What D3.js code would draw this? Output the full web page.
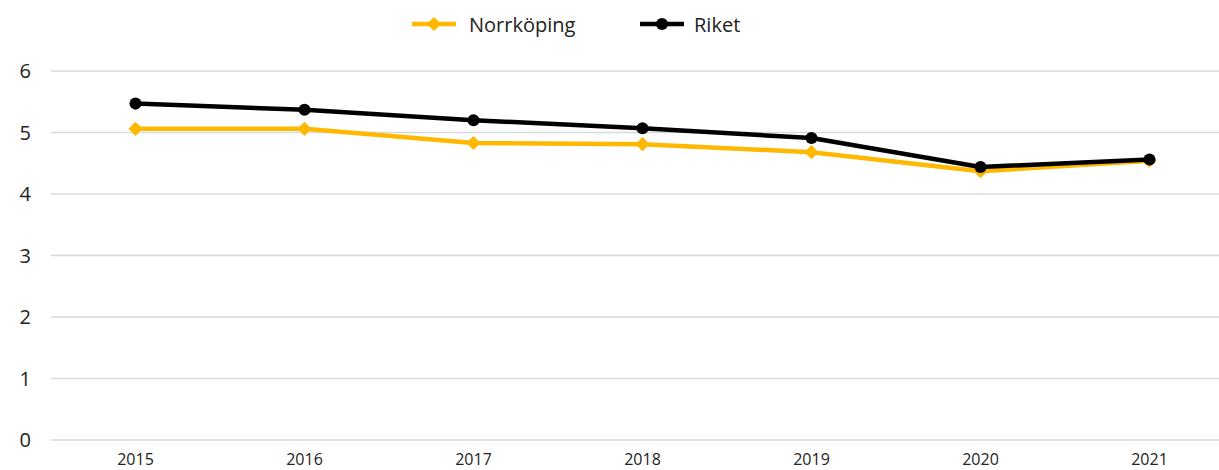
<!DOCTYPE html>
<html>
<head>
<meta charset="utf-8">
<script src="https://cdn.jsdelivr.net/npm/d3@7"></script>
<style>
  body { margin: 0; background: #fff; }
  text { font-family: "Open Sans", sans-serif; fill: #222; }
</style>
</head>
<body>
<script>
// data
const years = ["2015", "2016", "2017", "2018", "2019", "2020", "2021"];
const norrkoping = [5.06, 5.06, 4.83, 4.81, 4.68, 4.37, 4.54];
const riket = [5.47, 5.37, 5.20, 5.07, 4.91, 4.44, 4.56];
const yTicks = [0, 1, 2, 3, 4, 5, 6];

const W = 1219, H = 470;
const plotLeft = 51, plotRight = 1234, plotTop = 71, plotBottom = 440;

const svg = d3.select("body").append("svg")
    .attr("width", W)
    .attr("height", H);

const x = d3.scaleBand().domain(years).range([plotLeft, plotRight]);
const y = d3.scaleLinear().domain([0, 6]).range([plotBottom, plotTop]);

// gridlines
svg.selectAll("line.grid")
    .data(yTicks)
    .enter()
    .append("line")
    .attr("class", "grid")
    .attr("x1", plotLeft)
    .attr("x2", W)
    .attr("y1", d => y(d))
    .attr("y2", d => y(d))
    .attr("stroke", "#d9d9d9")
    .attr("stroke-width", 1.5);

// y labels
svg.selectAll("text.ylab")
    .data(yTicks)
    .enter()
    .append("text")
    .attr("class", "ylab")
    .attr("x", 31)
    .attr("y", d => y(d) + 7)
    .attr("text-anchor", "end")
    .attr("font-size", "20px")
    .text(d => d);

// x labels
svg.selectAll("text.xlab")
    .data(years)
    .enter()
    .append("text")
    .attr("class", "xlab")
    .attr("x", d => x(d) + x.bandwidth() / 2)
    .attr("y", 465)
    .attr("text-anchor", "middle")
    .attr("font-size", "16px")
    .text(d => d);

const line = d3.line()
    .x((d, i) => x(years[i]) + x.bandwidth() / 2)
    .y(d => y(d));

// diamond = square turned 45 degrees
const series = [
    { name: "Norrköping", values: norrkoping, color: "#FFB800", symbol: d3.symbolSquare, size: 100, rot: 45 },
    { name: "Riket", values: riket, color: "#000000", symbol: d3.symbolCircle, size: 115, rot: 0 }
];

series.forEach(s => {
    svg.append("path")
        .datum(s.values)
        .attr("d", line)
        .attr("fill", "none")
        .attr("stroke", s.color)
        .attr("stroke-width", 4.5)
        .attr("stroke-linejoin", "round");

    svg.selectAll(null)
        .data(s.values)
        .enter()
        .append("path")
        .attr("transform", (d, i) => "translate(" + (x(years[i]) + x.bandwidth() / 2) + "," + y(d) + ") rotate(" + s.rot + ")")
        .attr("d", d3.symbol().type(s.symbol).size(s.size))
        .attr("fill", s.color);
});

// legend
const legendPos = [412, 640];
series.forEach((s, i) => {
    const g = svg.append("g").attr("transform", "translate(" + legendPos[i] + ",24)");
    g.append("line")
        .attr("x1", 0).attr("x2", 44)
        .attr("y1", 0).attr("y2", 0)
        .attr("stroke", s.color)
        .attr("stroke-width", 4.5);
    g.append("path")
        .attr("transform", "translate(22,0) rotate(" + s.rot + ")")
        .attr("d", d3.symbol().type(s.symbol).size(s.size))
        .attr("fill", s.color);
    g.append("text")
        .attr("x", i === 0 ? 57 : 54)
        .attr("y", 8)
        .attr("font-size", "20px")
        .text(s.name);
});
</script>
</body>
</html>
